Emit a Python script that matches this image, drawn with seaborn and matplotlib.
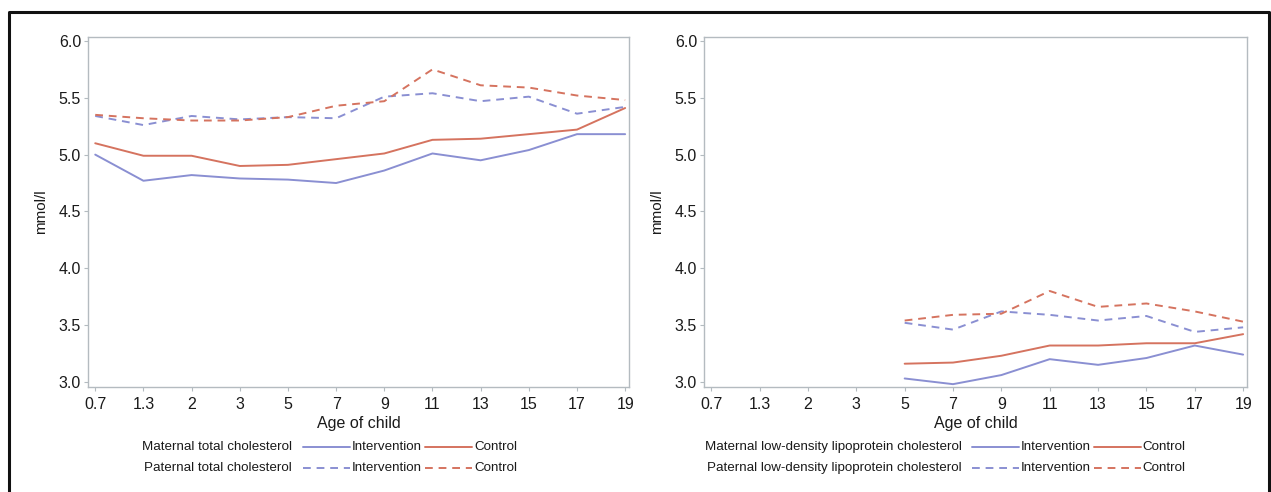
import pandas as pd
import matplotlib.pyplot as plt
import seaborn as sns
from matplotlib.lines import Line2D

# ages (categorical axis) and values
ages = ["0.7", "1.3", "2", "3", "5", "7", "9", "11", "13", "15", "17", "19"]

tc_mat_int = [5.00, 4.77, 4.82, 4.79, 4.78, 4.75, 4.86, 5.01, 4.95, 5.04, 5.18, 5.18]
tc_mat_ctl = [5.10, 4.99, 4.99, 4.90, 4.91, 4.96, 5.01, 5.13, 5.14, 5.18, 5.22, 5.41]
tc_pat_int = [5.34, 5.26, 5.34, 5.31, 5.33, 5.32, 5.51, 5.54, 5.47, 5.51, 5.36, 5.42]
tc_pat_ctl = [5.35, 5.32, 5.30, 5.30, 5.33, 5.43, 5.47, 5.75, 5.61, 5.59, 5.52, 5.48]

ldl_ages = ["5", "7", "9", "11", "13", "15", "17", "19"]
ldl_mat_int = [3.03, 2.98, 3.06, 3.20, 3.15, 3.21, 3.32, 3.24]
ldl_mat_ctl = [3.16, 3.17, 3.23, 3.32, 3.32, 3.34, 3.34, 3.42]
ldl_pat_int = [3.52, 3.46, 3.62, 3.59, 3.54, 3.58, 3.44, 3.48]
ldl_pat_ctl = [3.54, 3.59, 3.60, 3.80, 3.66, 3.69, 3.62, 3.53]

BLUE = "#8A8FD2"
RED = "#D5735F"
SPINE = "#B4BBC0"
TXT = "#1A1A1A"


def long_form(age_list, mi, mc, pi, pc):
    rows = []
    for parent, grp, vals in [("Maternal", "Intervention", mi), ("Maternal", "Control", mc),
                              ("Paternal", "Intervention", pi), ("Paternal", "Control", pc)]:
        for a, v in zip(age_list, vals):
            rows.append({"pos": ages.index(a), "value": v, "group": grp, "parent": parent})
    return pd.DataFrame(rows)


df_tc = long_form(ages, tc_mat_int, tc_mat_ctl, tc_pat_int, tc_pat_ctl)
df_ldl = long_form(ldl_ages, ldl_mat_int, ldl_mat_ctl, ldl_pat_int, ldl_pat_ctl)

sns.set_style("white")
plt.rcParams["font.family"] = ["Liberation Sans", "DejaVu Sans"]

fig = plt.figure(figsize=(12.71, 4.92), dpi=100)
W, H = 1271, 492
ax1 = fig.add_axes([88 / W, 1 - 387 / H, (629 - 88) / W, (387 - 37) / H])
ax2 = fig.add_axes([704 / W, 1 - 387 / H, (1247 - 704) / W, (387 - 37) / H])

palette = {"Intervention": BLUE, "Control": RED}
dashes = {"Maternal": "", "Paternal": (4, 3)}

for ax, df in [(ax1, df_tc), (ax2, df_ldl)]:
    sns.lineplot(data=df, x="pos", y="value", hue="group", style="parent",
                 palette=palette, dashes=dashes, linewidth=1.4, legend=False, ax=ax)
    ax.set_xlim(-0.15, 11.08)
    ax.set_ylim(2.955, 6.035)
    ax.set_xticks(range(len(ages)))
    ax.set_xticklabels(ages)
    ax.set_yticks([3.0, 3.5, 4.0, 4.5, 5.0, 5.5, 6.0])
    ax.set_yticklabels(["3.0", "3.5", "4.0", "4.5", "5.0", "5.5", "6.0"])
    ax.set_xlabel("Age of child", fontsize=11.5, color=TXT, labelpad=3)
    ax.set_ylabel("mmol/l", fontsize=11, color=TXT, labelpad=8)
    ax.tick_params(axis="both", which="both", direction="out", length=3, width=0.8,
                   color=SPINE, labelsize=11.5, labelcolor=TXT, pad=2,
                   bottom=True, left=True)
    ax.tick_params(axis="x", pad=4)
    for s in ax.spines.values():
        s.set_color(SPINE)
        s.set_linewidth(1.0)

# custom legends below each panel
def legend_rows(labels, x_text, x_l1, x_t1, x_l2, x_t2):
    for label, y, ls in [(labels[0], 447, "-"), (labels[1], 468, (0, (4, 3)))]:
        fy = 1 - y / H
        fig.text(x_text / W, fy, label, ha="right", va="center", fontsize=9.6, color=TXT)
        fig.add_artist(Line2D([x_l1 / W, (x_l1 + 47) / W], [fy, fy], color=BLUE, lw=1.4,
                              linestyle=ls, transform=fig.transFigure))
        fig.text(x_t1 / W, fy, "Intervention", ha="left", va="center", fontsize=9.6, color=TXT)
        fig.add_artist(Line2D([x_l2 / W, (x_l2 + 47) / W], [fy, fy], color=RED, lw=1.4,
                              linestyle=ls, transform=fig.transFigure))
        fig.text(x_t2 / W, fy, "Control", ha="left", va="center", fontsize=9.6, color=TXT)


legend_rows(["Maternal total cholesterol", "Paternal total cholesterol"], 292, 303, 352, 425, 474)
legend_rows(["Maternal low-density lipoprotein cholesterol",
             "Paternal low-density lipoprotein cholesterol"], 962, 972, 1021, 1094, 1142)

# outer frame (top, left, right)
fx = [9 / W, 9 / W, 1269 / W, 1269 / W]
fy = [0, 1 - 12 / H, 1 - 12 / H, 0]
fig.add_artist(Line2D(fx, fy, color="#111111", lw=2.2, transform=fig.transFigure))

fig.savefig("out.png", dpi=100)
